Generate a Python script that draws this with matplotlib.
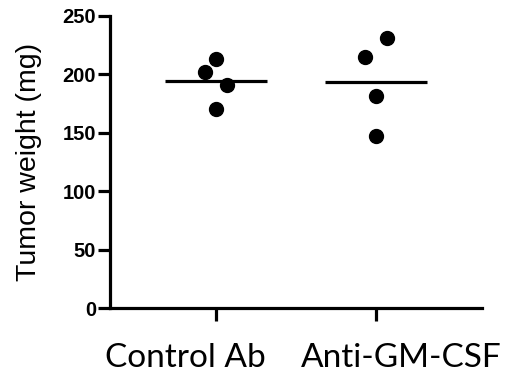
import numpy as np
import matplotlib.pyplot as plt
import matplotlib.transforms as mtransforms

# Data
groups = ["Control Ab", "Anti-GM-CSF"]
control = [202, 213, 191, 170]
anti = [215, 231, 181, 147]
control_offsets = [-0.07, 0.0, 0.07, 0.0]
anti_offsets = [-0.07, 0.07, 0.0, 0.0]
yticks = [0, 50, 100, 150, 200, 250]

fig = plt.figure(figsize=(5.05, 3.86), dpi=100)
ax = fig.add_axes([0.218, 0.202, 0.736, 0.757])

series = [control, anti]
offsets = [control_offsets, anti_offsets]
for i, (vals, offs) in enumerate(zip(series, offsets)):
    xpos = i + 1 + np.array(offs)
    ax.plot(xpos, vals, "o", color="black", markersize=10, clip_on=False)
    m = np.mean(vals)
    ax.plot([i + 1 - 0.32, i + 1 + 0.32], [m, m], color="black", lw=2.3,
            solid_capstyle="butt")

ax.set_xlim(0.3375, 2.6625)
ax.set_ylim(0, 250)
ax.set_yticks(yticks)
ax.set_xticks([1, 2])
ax.set_xticklabels([])
# group labels sit off-centre from the ticks in the original
trans = mtransforms.blended_transform_factory(ax.transData, ax.transAxes)
label_x = [0.806, 2.156]
for name, lx in zip(groups, label_x):
    ax.text(lx, -0.202, name, transform=trans, ha="center", va="baseline",
            fontsize=24, family="Lato")
for lab in ax.get_yticklabels():
    lab.set_fontweight("bold")
    lab.set_fontsize(14.5)
    lab.set_family("Liberation Sans")
ax.set_ylabel("Tumor weight (mg)", fontsize=20.5, family="Liberation Sans",
              labelpad=15)

for s in ["top", "right"]:
    ax.spines[s].set_visible(False)
for s in ["left", "bottom"]:
    ax.spines[s].set_linewidth(2.3)
ax.tick_params(width=2.3, length=9, pad=1)

fig.savefig("out.png", dpi=100)
